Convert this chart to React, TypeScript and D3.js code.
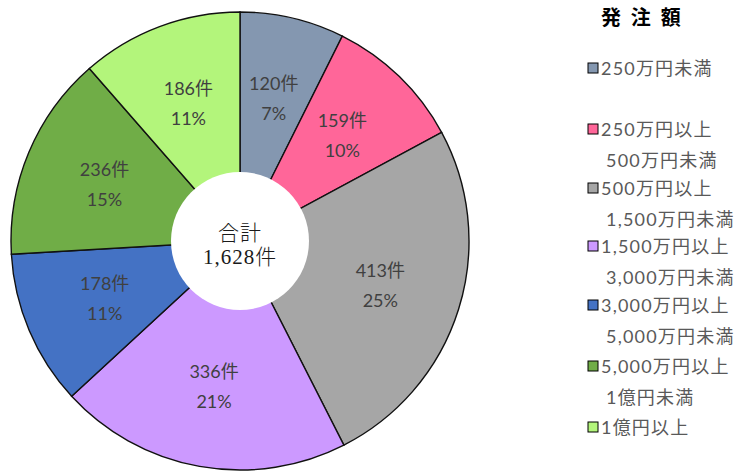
import React from "react";
import * as d3 from "d3";

const counts = [120, 159, 413, 336, 178, 236, 186];
const percents = ["7%", "10%", "25%", "21%", "11%", "15%", "11%"];
const colors = ["#8497B0", "#FF6699", "#A6A6A6", "#CC99FF", "#4472C4", "#70AD47", "#B3F57B"];
const legendLines: string[][] = [
  ["250万円未満"],
  ["250万円以上", "500万円未満"],
  ["500万円以上", "1,500万円未満"],
  ["1,500万円以上", "3,000万円未満"],
  ["3,000万円以上", "5,000万円未満"],
  ["5,000万円以上", "1億円未満"],
  ["1億円以上"],
];
const legendTitle = "発 注 額";
const totalLabel = ["合計", "1,628件"];

export default function App() {
  const cx = 240, cy = 241, r = 229, hole = 69, labelR = 147;
  const pie = d3.pie<number>().sort(null).value((d) => d);
  const arcs = pie(counts);
  const arc = d3.arc<d3.PieArcDatum<number>>().innerRadius(0).outerRadius(r);
  const labelArc = d3.arc<d3.PieArcDatum<number>>().innerRadius(labelR).outerRadius(labelR);
  const legendY = [68, 129, 188, 246, 305, 366, 427];
  const font = "Lato, 'Noto Sans CJK JP', sans-serif";
  return (
    <svg width={735} height={471} style={{ position: "absolute", left: 0, top: 0 }}>
      <rect width={735} height={471} fill="#fff" />
      <g transform={`translate(${cx},${cy})`}>
        {arcs.map((a, i) => (
          <path key={i} d={arc(a) || ""} fill={colors[i]} stroke="#111" strokeWidth={1.4} />
        ))}
        {arcs.map((a, i) => {
          const [x, y] = labelArc.centroid(a);
          return (
            <g key={"l" + i} fontFamily={font} fontSize={18} fill="#404040" textAnchor="middle">
              <text x={x} y={y - 8}>{counts[i]}件</text>
              <text x={x} y={y + 22}>{percents[i]}</text>
            </g>
          );
        })}
        <circle r={hole} fill="#fff" />
        <g fontFamily="'Liberation Serif', 'DejaVu Serif', 'Noto Sans CJK JP', serif" fontSize={21} fontWeight={300} fill="#1a1a1a" textAnchor="middle" letterSpacing={1}>
          <text x={0} y={-1}>{totalLabel[0]}</text>
          <text x={0} y={23}>{totalLabel[1]}</text>
        </g>
      </g>
      <text x={601} y={25} fontFamily={font} fontSize={20} fontWeight="bold" fill="#000" letterSpacing={2.5}>{legendTitle}</text>
      {legendLines.map((lines, i) => (
        <g key={"lg" + i} fontFamily={font} fontSize={18} fill="#595959" letterSpacing={1.2}>
          <rect x={588} y={legendY[i] - 5} width={10} height={10} fill={colors[i]} stroke="#000" strokeWidth={1} />
          <text x={601} y={legendY[i] + 7}>{lines[0]}</text>
          {lines[1] && <text x={606} y={legendY[i] + 38}>{lines[1]}</text>}
        </g>
      ))}
    </svg>
  );
}
